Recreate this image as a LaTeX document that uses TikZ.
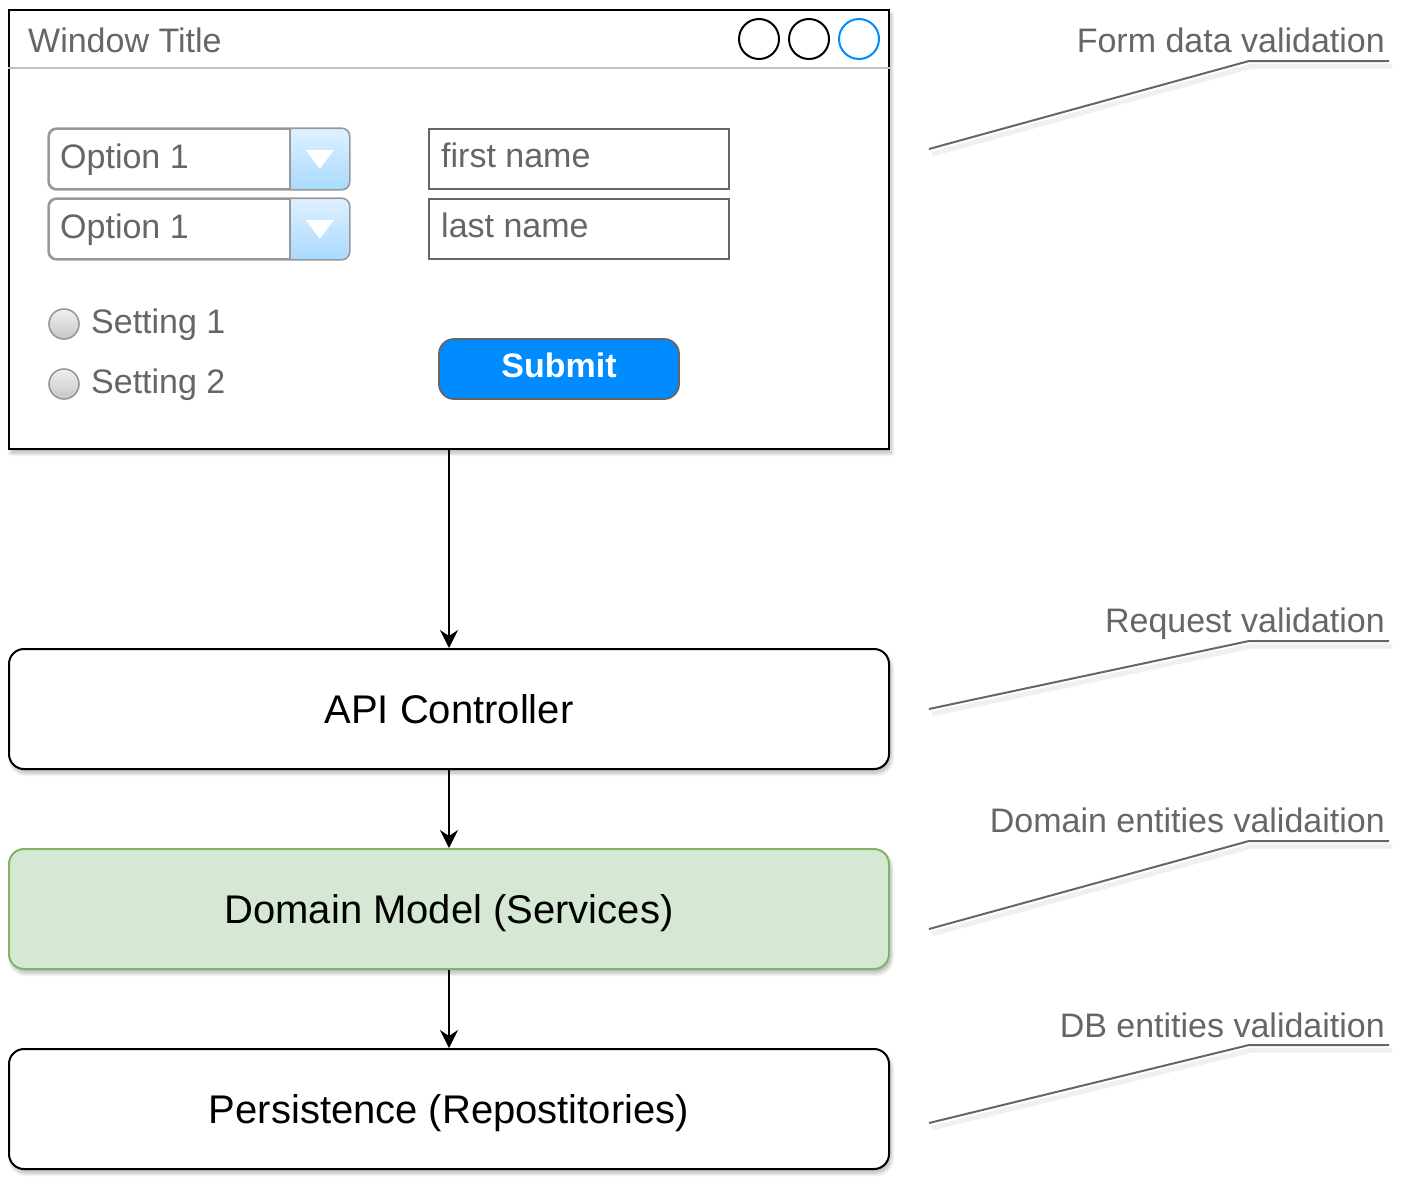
\documentclass[tikz,border=0pt]{standalone}
\usepackage{fontspec}
\setmainfont{Liberation Sans}
\usetikzlibrary{arrows.meta,shadows,shadows.blur,calc}
\definecolor{txtgray}{HTML}{666666}
\definecolor{btnblue}{HTML}{008CFF}
\definecolor{greenfill}{HTML}{D5E8D4}
\definecolor{greenline}{HTML}{82B366}
\definecolor{ddgray}{HTML}{999999}
\definecolor{ddtop}{HTML}{E0F0FF}
\definecolor{ddbot}{HTML}{A8DAFF}
\definecolor{divgray}{HTML}{C0C0C0}
\newcommand\fsz[1]{\fontsize{#1}{#1}\selectfont}
\begin{document}
\begin{tikzpicture}[x=1pt,y=-1pt,
  shad/.style={blur shadow={shadow xshift=2pt, shadow yshift=-4pt, shadow opacity=30, shadow blur radius=4pt, shadow blur steps=8}},
  window/.style={rectangle, draw=black, line width=2pt, fill=white, minimum width=880pt, minimum height=439pt, inner sep=0pt, shad},
  winbtn/.style={circle, draw=black, line width=2pt, minimum size=40pt, inner sep=0pt},
  uitext/.style={anchor=base west, inner sep=0pt, text=txtgray, font=\fsz{34}},
  ddbox/.style={rectangle, rounded corners=8pt, draw=ddgray, line width=1.6pt, fill=white, minimum width=300pt, minimum height=60pt, inner sep=0pt},
  ddborder/.style={draw=ddgray, line width=1.6pt, rounded corners=8pt},
  field/.style={rectangle, draw=txtgray, line width=1.8pt, fill=white, minimum width=300pt, minimum height=60pt, inner sep=0pt},
  radio/.style={circle, draw=ddgray, line width=1.6pt, minimum size=30pt, inner sep=0pt, top color=white!94!black, bottom color=white!78!black},
  submit/.style={rectangle, rounded corners=15pt, draw=txtgray, line width=1.8pt, fill=btnblue, minimum width=240pt, minimum height=60pt, inner sep=0pt, text=white, font=\fsz{34}\bfseries, text height=24.4pt, text depth=8pt},
  layer/.style={rectangle, rounded corners=15pt, draw=black, line width=2pt, fill=white, minimum width=880pt, minimum height=120pt, inner sep=0pt, font=\fsz{40}, text height=29pt, text depth=0pt, shad},
  arr/.style={line width=2pt, -{Stealth[length=18pt, width=18pt, inset=6pt]}},
  callout/.style={anchor=base east, inner sep=0pt, text=txtgray, font=\fsz{34}},
  cline/.style={draw=txtgray, line width=2pt},
  cshadow/.style={draw=black, opacity=0.06, line width=5pt},
]
\useasboundingbox (0,0) rectangle (1402,1184);

% window
\node[window] (win) at (449,229.5) {};
\draw[divgray, line width=2pt] ($(win.north west)+(0,59)$) -- ($(win.north east)+(0,59)$);
\node[uitext] (wtitle) at (28,52) {Window Title};
\node[winbtn] (wb1) at (759,39) {};
\node[winbtn] (wb2) at (809,39) {};
\node[winbtn, draw=btnblue] (wb3) at (859,39) {};

% dropdowns
\foreach \nm/\cy in {dd1/159, dd2/229}{
  \node[ddbox] (\nm) at (199,\cy) {};
  \begin{scope}
    \clip[rounded corners=8pt] (\nm.north west) rectangle (\nm.south east);
    \shade[top color=ddtop, bottom color=ddbot] ($(\nm.north east)+(-60,0)$) rectangle (\nm.south east);
  \end{scope}
  \draw[ddgray, line width=1.6pt] ($(\nm.north east)+(-60,0)$) -- ($(\nm.south east)+(-60,0)$);
  \draw[ddborder] (\nm.north west) rectangle (\nm.south east);
  \fill[white] ($(\nm.east)+(-44,-9)$) -- ($(\nm.east)+(-16,-9)$) -- ($(\nm.east)+(-30,10)$) -- cycle;
}
\node[uitext] (dd1t) at (60,168) {Option 1};
\node[uitext] (dd2t) at (60,238) {Option 1};

% text fields
\node[field] (fn) at (579,159) {};
\node[field] (ln) at (579,229) {};
\node[uitext] (fnt) at (441,167) {first name};
\node[uitext] (lnt) at (441,237) {last name};

% radios
\node[radio] (r1) at (64,324) {};
\node[radio] (r2) at (64,384) {};
\node[uitext] (r1t) at (91,333) {Setting 1};
\node[uitext] (r2t) at (91,393) {Setting 2};

% submit
\node[submit] (sub) at (559,369) {Submit};

% layers
\node[layer] (api) at (449,709) {API Controller};
\node[layer, fill=greenfill, draw=greenline] (dom) at (449,909) {Domain Model (Services)};
\node[layer] (per) at (449,1109) {Persistence (Repostitories)};

\draw[arr] (win.south) -- (api.north);
\draw[arr] (api.south) -- (dom.north);
\draw[arr] (dom.south) -- (per.north);

% callouts
\node[callout] (c1) at (1385,52) {Form data validation};
\node[callout] (c2) at (1385,632) {Request validation};
\node[callout] (c3) at (1385,832) {Domain entities validaition};
\node[callout] (c4) at (1385,1037) {DB entities validaition};
\coordinate (c1a) at (929,149); \coordinate (c1b) at (1249,61); \coordinate (c1c) at (1389,61);
\coordinate (c2a) at (929,709); \coordinate (c2b) at (1249,641); \coordinate (c2c) at (1389,641);
\coordinate (c3a) at (929,929); \coordinate (c3b) at (1249,841); \coordinate (c3c) at (1389,841);
\coordinate (c4a) at (929,1123); \coordinate (c4b) at (1249,1045); \coordinate (c4c) at (1389,1045);
\foreach \k in {1,2,3,4}{
  \draw[cshadow] ($(c\k a)+(3,5)$) -- ($(c\k b)+(3,5)$) -- ($(c\k c)+(3,5)$);
  \draw[cline] (c\k a) -- (c\k b) -- (c\k c);
}
\end{tikzpicture}
\end{document}
